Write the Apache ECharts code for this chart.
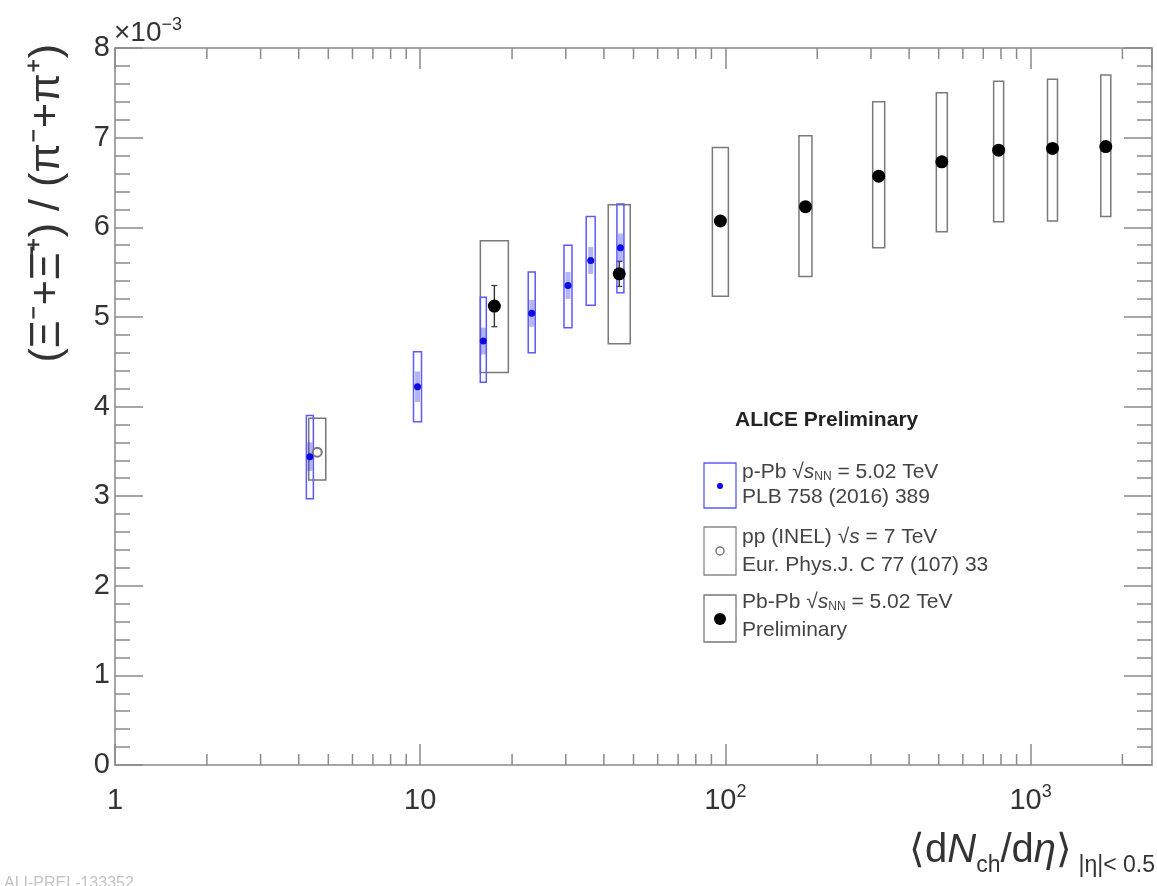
<!DOCTYPE html>
<html>
<head>
<meta charset="utf-8">
<script src="https://cdn.jsdelivr.net/npm/echarts@6/dist/echarts.min.js"></script>
<style>
  html, body { margin: 0; padding: 0; background: #fff; }
  #chart { width: 1157px; height: 886px; }
</style>
</head>
<body>
<div id="chart"></div>
<script>
// Pb-Pb sNN = 5.02 TeV (preliminary)
const pbpbX = [17.5, 44.9, 96.3, 183, 318, 512, 786, 1180, 1764];
const pbpbY = [5.12, 5.48, 6.07, 6.23, 6.57, 6.73, 6.86, 6.88, 6.90];
const pbpbStat = [0.23, 0.14, 0.05, 0.05, 0.04, 0.04, 0.04, 0.04, 0.04];
const pbpbSysLo = [4.38, 4.70, 5.23, 5.45, 5.77, 5.95, 6.06, 6.07, 6.12];
const pbpbSysHi = [5.85, 6.25, 6.89, 7.02, 7.40, 7.50, 7.63, 7.65, 7.70];

// p-Pb sNN = 5.02 TeV
const ppbX = [4.35, 9.8, 16.1, 23.2, 30.5, 36.2, 45.3];
const ppbY = [3.44, 4.22, 4.73, 5.04, 5.35, 5.63, 5.77];
const ppbStat = [0.16, 0.17, 0.15, 0.15, 0.15, 0.15, 0.16];
const ppbSysLo = [2.97, 3.83, 4.27, 4.60, 4.88, 5.13, 5.27];
const ppbSysHi = [3.90, 4.61, 5.22, 5.50, 5.80, 6.12, 6.26];

// pp (INEL) s = 7 TeV
const ppX = [4.6];
const ppY = [3.49];
const ppStat = [0.03];
const ppSysLo = [3.18];
const ppSysHi = [3.87];

// log axis minor ticks
const xMinorTicks = [2, 3, 4, 5, 6, 7, 8, 9, 20, 30, 40, 50, 60, 70, 80, 90,
                     200, 300, 400, 500, 600, 700, 800, 900, 2000];

// box widths in px (style only)
const pbpbBoxPx = [28, 22, 16, 13, 12, 11, 10, 10, 10];
const ppbBoxPx = [7, 8, 6, 7, 8, 9, 7];
const ppBoxPx = [17];

const FONT = '"Liberation Sans", Arial, sans-serif';
const axisColor = '#8a8a8a';
const textColor = '#333';

function boxSeries(name, xs, ys, lo, hi, stat, widths, color, statColor, statWidth, caps) {
  return {
    type: 'custom',
    name: name,
    z: 2,
    silent: true,
    data: xs.map((x, i) => [x, ys[i], lo[i], hi[i], stat[i], i]),
    encode: { x: 0, y: [1, 2, 3] },
    renderItem: function (params, api) {
      const x = api.value(0);
      const top = api.coord([x, api.value(3)]);
      const bot = api.coord([x, api.value(2)]);
      const w = widths[api.value(5)];
      const s1 = api.coord([x, api.value(1) + api.value(4)]);
      const s2 = api.coord([x, api.value(1) - api.value(4)]);
      const kids = [
        { type: 'rect', shape: { x: top[0] - w / 2, y: top[1], width: w, height: bot[1] - top[1] },
          style: { fill: 'none', stroke: color, lineWidth: 1.5 } },
        { type: 'line', shape: { x1: s1[0], y1: s1[1], x2: s2[0], y2: s2[1] },
          style: { stroke: statColor, lineWidth: statWidth } }
      ];
      if (caps) {
        kids.push({ type: 'line', shape: { x1: s1[0] - 3, y1: s1[1], x2: s1[0] + 3, y2: s1[1] }, style: { stroke: statColor, lineWidth: 1.2 } });
        kids.push({ type: 'line', shape: { x1: s2[0] - 3, y1: s2[1], x2: s2[0] + 3, y2: s2[1] }, style: { stroke: statColor, lineWidth: 1.2 } });
      }
      return { type: 'group', children: kids };
    }
  };
}

function xLabel(v) {
  const e = Math.log10(v);
  const r = Math.round(e);
  if (Math.abs(e - r) > 1e-6) return '';
  if (r === 0) return '{b|1}';
  if (r === 1) return '{b|10}';
  return '{b|10}{sup|' + r + '}';
}

let myEchart = echarts.init(document.getElementById('chart'));
let option = {
  animation: false,
  backgroundColor: '#fff',
  textStyle: { fontFamily: FONT },
  grid: { left: 115, right: 5, top: 48, bottom: 121, containLabel: false },
  xAxis: [
    {
      type: 'log', logBase: 10, min: 1, max: 2500, position: 'bottom',
      axisLine: { onZero: false, lineStyle: { color: axisColor, width: 1.5 } },
      axisTick: { inside: true, length: 21, lineStyle: { color: axisColor, width: 1.5 } },
      axisLabel: {
        formatter: xLabel, margin: 18, showMaxLabel: false, color: textColor,
        rich: {
          b: { fontSize: 29, fontFamily: FONT, color: textColor, lineHeight: 36 },
          sup: { fontSize: 18, fontFamily: FONT, color: textColor, verticalAlign: 'top', lineHeight: 18 }
        }
      },
      splitLine: { show: false }
    },
    {
      type: 'log', logBase: 10, min: 1, max: 2500, position: 'top',
      axisLine: { onZero: false, lineStyle: { color: axisColor, width: 1.5 } },
      axisTick: { inside: true, length: 21, lineStyle: { color: axisColor, width: 1.5 } },
      axisLabel: { show: false },
      splitLine: { show: false }
    }
  ],
  yAxis: [
    {
      type: 'value', min: 0, max: 8, interval: 1, position: 'left',
      axisLine: { show: true, onZero: false, lineStyle: { color: axisColor, width: 1.5 } },
      axisTick: { inside: true, length: 28, lineStyle: { color: axisColor, width: 1.5 } },
      minorTick: { show: true, splitNumber: 5, length: 15, lineStyle: { color: axisColor, width: 1.5 } },
      axisLabel: { fontSize: 29, color: textColor, margin: 5, fontFamily: FONT },
      splitLine: { show: false },
      minorSplitLine: { show: false }
    },
    {
      type: 'value', min: 0, max: 8, interval: 1, position: 'right',
      axisLine: { show: true, onZero: false, lineStyle: { color: axisColor, width: 1.5 } },
      axisTick: { inside: true, length: 28, lineStyle: { color: axisColor, width: 1.5 } },
      minorTick: { show: true, splitNumber: 5, length: 15, lineStyle: { color: axisColor, width: 1.5 } },
      axisLabel: { show: false },
      splitLine: { show: false },
      minorSplitLine: { show: false }
    }
  ],
  series: [
    {
      type: 'custom', silent: true, z: 1,
      data: xMinorTicks.map(v => [v, 0]),
      encode: { x: 0, y: 1 },
      renderItem: function (params, api) {
        const b = api.coord([api.value(0), 0]);
        const t = api.coord([api.value(0), 8]);
        return { type: 'group', children: [
          { type: 'line', shape: { x1: b[0], y1: b[1], x2: b[0], y2: b[1] - 11 }, style: { stroke: axisColor, lineWidth: 1.5 } },
          { type: 'line', shape: { x1: t[0], y1: t[1], x2: t[0], y2: t[1] + 11 }, style: { stroke: axisColor, lineWidth: 1.5 } }
        ] };
      }
    },
    boxSeries('pp box', ppX, ppY, ppSysLo, ppSysHi, ppStat, ppBoxPx, '#777', '#777', 1.2, false),
    boxSeries('Pb-Pb box', pbpbX, pbpbY, pbpbSysLo, pbpbSysHi, pbpbStat, pbpbBoxPx, '#7a7a7a', '#333', 1.4, true),
    boxSeries('p-Pb box', ppbX, ppbY, ppbSysLo, ppbSysHi, ppbStat, ppbBoxPx, '#5a5aff', 'rgba(40,40,230,0.35)', 5, false),
    {
      name: 'pp', type: 'scatter', z: 3, silent: true,
      symbol: 'emptyCircle', symbolSize: 9,
      itemStyle: { color: '#777', borderColor: '#777', borderWidth: 1.5, opacity: 1 },
      data: ppX.map((x, i) => [x, ppY[i]])
    },
    {
      name: 'p-Pb', type: 'scatter', z: 4, silent: true,
      symbol: 'circle', symbolSize: 7,
      itemStyle: { color: '#0a0ae0', opacity: 1 },
      data: ppbX.map((x, i) => [x, ppbY[i]])
    },
    {
      name: 'Pb-Pb', type: 'scatter', z: 5, silent: true,
      symbol: 'circle', symbolSize: 13,
      itemStyle: { color: '#000', opacity: 1 },
      data: pbpbX.map((x, i) => [x, pbpbY[i]])
    }
  ],
  graphic: [
    // y axis title
    { type: 'text', x: 47, y: 44, rotation: Math.PI / 2, silent: true,
      style: { text: '(\u039E\u207B+\u039E\u0304\u207A) / (\u03C0\u207B+\u03C0\u207A)', font: '43px ' + FONT, fill: textColor, align: 'right', verticalAlign: 'middle' } },
    // exponent
    { type: 'text', x: 114, y: 33, silent: true,
      style: { text: '{b|\u00D710}{sup|\u22123}', verticalAlign: 'middle', align: 'left',
        rich: { b: { fontSize: 28, fontFamily: FONT, fill: textColor, lineHeight: 34 },
                sup: { fontSize: 18, fontFamily: FONT, fill: textColor, verticalAlign: 'top', lineHeight: 18 } } } },
    // x axis title
    { type: 'text', x: 1155, y: 851, silent: true,
      style: { text: '{m|\u27E8d}{mi|N}{s|ch}{m|/d}{mi|\u03B7}{m|\u27E9}{s2| |\u03B7|< 0.5}', align: 'right', verticalAlign: 'middle',
        rich: {
          m: { fontSize: 40, fontFamily: FONT, fill: textColor, lineHeight: 52 },
          mi: { fontSize: 40, fontFamily: FONT, fontStyle: 'italic', fill: textColor, lineHeight: 52 },
          s: { fontSize: 23, fontFamily: FONT, fill: textColor, verticalAlign: 'bottom', lineHeight: 24 },
          s2: { fontSize: 23, fontFamily: FONT, fill: textColor, verticalAlign: 'bottom', lineHeight: 20 }
        } } },
    // faint id text
    { type: 'text', x: 4, y: 884, silent: true,
      style: { text: 'ALI-PREL-133352', font: '16px ' + FONT, fill: '#c4c4c4', verticalAlign: 'middle' } },
    // legend header
    { type: 'text', x: 735, y: 420, silent: true,
      style: { text: 'ALICE Preliminary', font: 'bold 21px ' + FONT, fill: '#222', verticalAlign: 'middle' } },
    // legend boxes
    { type: 'rect', shape: { x: 704, y: 463, width: 32, height: 45 }, silent: true, style: { fill: 'none', stroke: '#5a5aff', lineWidth: 1.3 } },
    { type: 'circle', shape: { cx: 720, cy: 486, r: 3 }, silent: true, style: { fill: '#0a0ae0' } },
    { type: 'rect', shape: { x: 704, y: 527, width: 32, height: 48 }, silent: true, style: { fill: 'none', stroke: '#888', lineWidth: 1.3 } },
    { type: 'circle', shape: { cx: 720, cy: 551, r: 4 }, silent: true, style: { fill: 'none', stroke: '#777', lineWidth: 1.5 } },
    { type: 'rect', shape: { x: 704, y: 595, width: 32, height: 47 }, silent: true, style: { fill: 'none', stroke: '#777', lineWidth: 1.3 } },
    { type: 'circle', shape: { cx: 720, cy: 619, r: 6 }, silent: true, style: { fill: '#000' } },
    // legend texts
    { type: 'text', x: 742, y: 472, silent: true,
      style: { text: 'p-Pb \u221A{it|s}{sub|NN} = 5.02 TeV', verticalAlign: 'middle', font: '21px ' + FONT, fill: '#444',
        rich: { it: { fontSize: 21, fontStyle: 'italic', fontFamily: FONT, fill: '#444' },
                sub: { fontSize: 12, fontFamily: FONT, fill: '#444', verticalAlign: 'bottom', lineHeight: 12 } } } },
    { type: 'text', x: 742, y: 497, silent: true,
      style: { text: 'PLB 758 (2016) 389', verticalAlign: 'middle', font: '21px ' + FONT, fill: '#444' } },
    { type: 'text', x: 742, y: 537, silent: true,
      style: { text: 'pp (INEL) \u221A{it|s} = 7 TeV', verticalAlign: 'middle', font: '21px ' + FONT, fill: '#444',
        rich: { it: { fontSize: 21, fontStyle: 'italic', fontFamily: FONT, fill: '#444' } } } },
    { type: 'text', x: 742, y: 565, silent: true,
      style: { text: 'Eur. Phys.J. C 77 (107) 33', verticalAlign: 'middle', font: '21px ' + FONT, fill: '#444' } },
    { type: 'text', x: 742, y: 602, silent: true,
      style: { text: 'Pb-Pb \u221A{it|s}{sub|NN} = 5.02 TeV', verticalAlign: 'middle', font: '21px ' + FONT, fill: '#444',
        rich: { it: { fontSize: 21, fontStyle: 'italic', fontFamily: FONT, fill: '#444' },
                sub: { fontSize: 12, fontFamily: FONT, fill: '#444', verticalAlign: 'bottom', lineHeight: 12 } } } },
    { type: 'text', x: 742, y: 630, silent: true,
      style: { text: 'Preliminary', verticalAlign: 'middle', font: '21px ' + FONT, fill: '#444' } }
  ]
};
myEchart.setOption(option);
</script>
</body>
</html>
